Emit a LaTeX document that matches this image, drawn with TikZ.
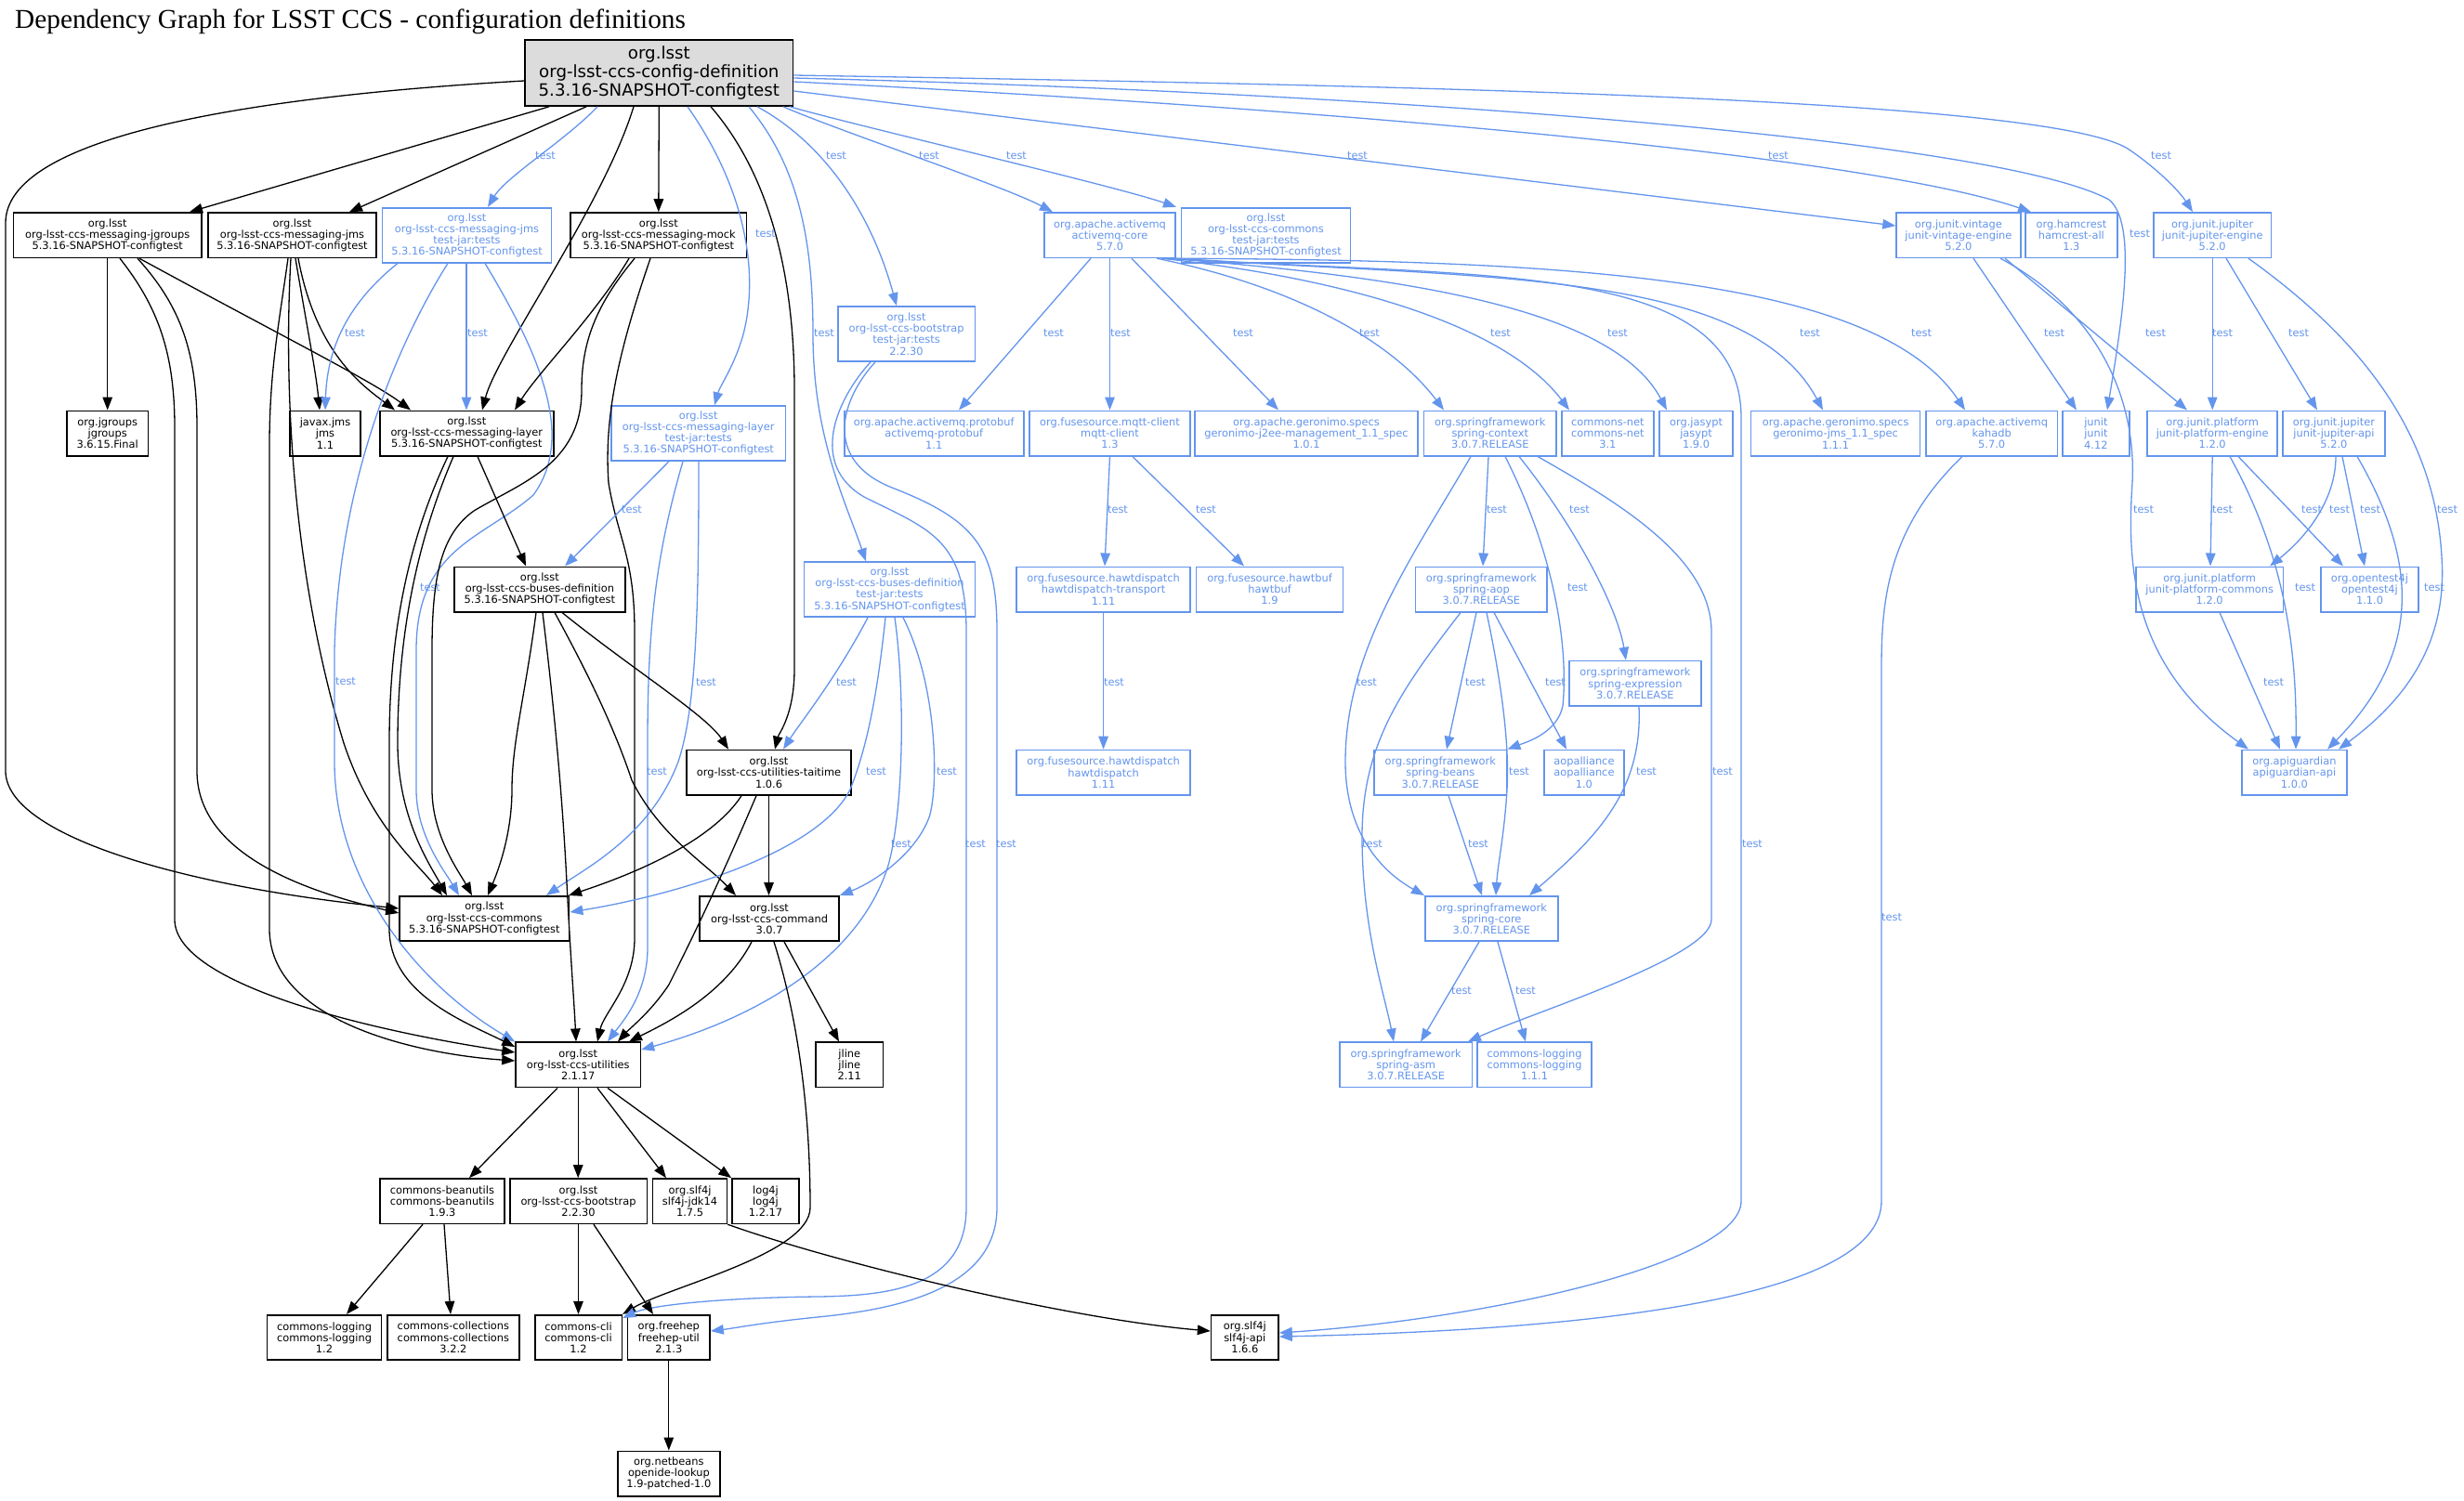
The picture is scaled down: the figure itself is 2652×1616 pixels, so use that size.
\documentclass[tikz,border=0pt]{standalone}
\usepackage{fontspec}
\setmainfont{DejaVu Sans}
\newfontfamily\gvtitlefont{Liberation Serif}
\usetikzlibrary{arrows.meta}
\definecolor{cblue}{RGB}{100,149,237}
\definecolor{rootfill}{RGB}{220,220,220}
\newcommand{\gvnode}{\fontsize{11.4}{12.2}\selectfont}
\newcommand{\gvroot}{\fontsize{18.2}{19.7}\selectfont}
\begin{document}
\begin{tikzpicture}[x=1pt,y=-1pt,
 box/.style={rectangle,draw=black,line width=1.6pt,inner sep=0pt,align=center,font=\gvnode,minimum height=48.4pt,text=black},
 bbox/.style={box,draw=cblue,text=cblue},
 bk/.style={draw=black,line width=1.3pt,-{Triangle[length=14pt,width=10.5pt]}},
 bl/.style={draw=cblue,line width=1.3pt,-{Triangle[length=14pt,width=10.5pt]}},
 lbl/.style={text=cblue,font=\gvnode,inner sep=0pt}]
\useasboundingbox (0,0) rectangle (2652,1616);
\fill[white] (0,0) rectangle (2652,1616);
\node[anchor=base west,inner sep=0pt,font=\gvtitlefont\fontsize{29.3}{32}\selectfont] (title) at (16,31) {Dependency Graph for LSST CCS - configuration definitions};

% ---------------- nodes
\node[box,fill=rootfill,font=\gvroot,minimum width=288.5pt,minimum height=71.3pt] (root) at (709.3,78.4) {org.lsst\\org-lsst-ccs-config-definition\\5.3.16-SNAPSHOT-configtest};
\node[box,minimum width=202.6pt] (mjg) at (115.7,253.2) {org.lsst\\org-lsst-ccs-messaging-jgroups\\5.3.16-SNAPSHOT-configtest};
\node[box,minimum width=181pt] (mjms) at (314.5,253.2) {org.lsst\\org-lsst-ccs-messaging-jms\\5.3.16-SNAPSHOT-configtest};
\node[bbox,minimum width=182pt,minimum height=59pt] (mjmst) at (502.5,253.2) {org.lsst\\org-lsst-ccs-messaging-jms\\test-jar:tests\\5.3.16-SNAPSHOT-configtest};
\node[box,minimum width=189.6pt] (mmock) at (708.8,253.2) {org.lsst\\org-lsst-ccs-messaging-mock\\5.3.16-SNAPSHOT-configtest};
\node[bbox,minimum width=141pt] (amq) at (1194.5,253.2) {org.apache.activemq\\activemq-core\\5.7.0};
\node[bbox,minimum width=182pt,minimum height=59pt] (ccst) at (1362.5,253.2) {org.lsst\\org-lsst-ccs-commons\\test-jar:tests\\5.3.16-SNAPSHOT-configtest};
\node[bbox,minimum width=133.7pt] (vint) at (2107.9,253.2) {org.junit.vintage\\junit-vintage-engine\\5.2.0};
\node[bbox,minimum width=98.9pt] (hamc) at (2229.4,253.2) {org.hamcrest\\hamcrest-all\\1.3};
\node[bbox,minimum width=126.4pt] (jupe) at (2381.2,253.2) {org.junit.jupiter\\junit-jupiter-engine\\5.2.0};
\node[bbox,minimum width=147.5pt,minimum height=59pt] (bst) at (975.6,359.5) {org.lsst\\org-lsst-ccs-bootstrap\\test-jar:tests\\2.2.30};

\node[box,minimum width=87.8pt] (jgl) at (115.7,466.5) {org.jgroups\\jgroups\\3.6.15.Final};
\node[box,minimum width=76pt] (jms) at (350,466.5) {javax.jms\\jms\\1.1};
\node[box,minimum width=187pt] (mlay) at (502.3,466.5) {org.lsst\\org-lsst-ccs-messaging-layer\\5.3.16-SNAPSHOT-configtest};
\node[bbox,minimum width=187.7pt,minimum height=59pt] (mlayt) at (751.7,466.5) {org.lsst\\org-lsst-ccs-messaging-layer\\test-jar:tests\\5.3.16-SNAPSHOT-configtest};
\node[bbox,minimum width=193pt] (prot) at (1005.2,466.5) {org.apache.activemq.protobuf\\activemq-protobuf\\1.1};
\node[bbox,minimum width=173.3pt] (mqtt) at (1194.5,466.5) {org.fusesource.mqtt-client\\mqtt-client\\1.3};
\node[bbox,minimum width=240.5pt] (gj2ee) at (1406,466.5) {org.apache.geronimo.specs\\geronimo-j2ee-management\_1.1\_spec\\1.0.1};
\node[bbox,minimum width=142.4pt] (sctx) at (1603.8,466.5) {org.springframework\\spring-context\\3.0.7.RELEASE};
\node[bbox,minimum width=99.3pt] (cnet) at (1730.4,466.5) {commons-net\\commons-net\\3.1};
\node[bbox,minimum width=78.5pt] (jasy) at (1825.5,466.5) {org.jasypt\\jasypt\\1.9.0};
\node[bbox,minimum width=182pt] (gjms) at (1975.6,466.5) {org.apache.geronimo.specs\\geronimo-jms\_1.1\_spec\\1.1.1};
\node[bbox,minimum width=141.6pt] (kaha) at (2143.7,466.5) {org.apache.activemq\\kahadb\\5.7.0};
\node[bbox,minimum width=72.3pt] (junit) at (2255.9,466.5) {junit\\junit\\4.12};
\node[bbox,minimum width=140pt] (pleng) at (2381.2,466.5) {org.junit.platform\\junit-platform-engine\\1.2.0};
\node[bbox,minimum width=109.7pt] (jupa) at (2511.9,466.5) {org.junit.jupiter\\junit-jupiter-api\\5.2.0};

\node[box,minimum width=183.7pt] (busd) at (580.9,634.5) {org.lsst\\org-lsst-ccs-buses-definition\\5.3.16-SNAPSHOT-configtest};
\node[bbox,minimum width=183.7pt,minimum height=59pt] (busdt) at (957.5,634.6) {org.lsst\\org-lsst-ccs-buses-definition\\test-jar:tests\\5.3.16-SNAPSHOT-configtest};
\node[bbox,minimum width=187pt] (hdt) at (1187.6,634.5) {org.fusesource.hawtdispatch\\hawtdispatch-transport\\1.11};
\node[bbox,minimum width=158pt] (hbuf) at (1366.5,634.5) {org.fusesource.hawtbuf\\hawtbuf\\1.9};
\node[bbox,minimum width=141.7pt] (saop) at (1594.4,634.5) {org.springframework\\spring-aop\\3.0.7.RELEASE};
\node[bbox,minimum width=158.7pt] (plcom) at (2378.2,634.5) {org.junit.platform\\junit-platform-commons\\1.2.0};
\node[bbox,minimum width=105pt] (ot4j) at (2550.5,634.5) {org.opentest4j\\opentest4j\\1.1.0};
\node[bbox,minimum width=142.3pt] (sexp) at (1759.9,735.8) {org.springframework\\spring-expression\\3.0.7.RELEASE};

\node[box,minimum width=177pt] (tait) at (827.5,831.7) {org.lsst\\org-lsst-ccs-utilities-taitime\\1.0.6};
\node[bbox,minimum width=187pt] (hd) at (1187.6,831.7) {org.fusesource.hawtdispatch\\hawtdispatch\\1.11};
\node[bbox,minimum width=142.6pt] (sbean) at (1550.3,831.7) {org.springframework\\spring-beans\\3.0.7.RELEASE};
\node[bbox,minimum width=86pt] (aopa) at (1704.9,831.7) {aopalliance\\aopalliance\\1.0};
\node[bbox,minimum width=112.7pt] (apig) at (2469.4,831.7) {org.apiguardian\\apiguardian-api\\1.0.0};

\node[box,minimum width=182.5pt] (comm) at (521.3,989) {org.lsst\\org-lsst-ccs-commons\\5.3.16-SNAPSHOT-configtest};
\node[box,minimum width=150pt] (cmd) at (828,989) {org.lsst\\org-lsst-ccs-command\\3.0.7};
\node[bbox,minimum width=143pt] (score) at (1605.3,989) {org.springframework\\spring-core\\3.0.7.RELEASE};

\node[box,minimum width=134.4pt] (util) at (622.2,1146.4) {org.lsst\\org-lsst-ccs-utilities\\2.1.17};
\node[box,minimum width=72.6pt] (jline) at (914.3,1146.4) {jline\\jline\\2.11};
\node[bbox,minimum width=142.3pt] (sasm) at (1513.2,1146.4) {org.springframework\\spring-asm\\3.0.7.RELEASE};
\node[bbox,minimum width=123pt] (clog11) at (1651.5,1146.4) {commons-logging\\commons-logging\\1.1.1};

\node[box,minimum width=134.3pt] (bean) at (475.9,1293.2) {commons-beanutils\\commons-beanutils\\1.9.3};
\node[box,minimum width=147.6pt] (boot) at (622.5,1293.2) {org.lsst\\org-lsst-ccs-bootstrap\\2.2.30};
\node[box,minimum width=79.8pt] (sjdk) at (742.5,1293.2) {org.slf4j\\slf4j-jdk14\\1.7.5};
\node[box,minimum width=72pt] (log4j) at (824,1293.2) {log4j\\log4j\\1.2.17};

\node[box,minimum width=122.8pt] (clog12) at (349,1439.9) {commons-logging\\commons-logging\\1.2};
\node[box,minimum width=142.3pt] (ccol) at (487.9,1439.9) {commons-collections\\commons-collections\\3.2.2};
\node[box,minimum width=93.6pt] (ccli) at (622.5,1439.9) {commons-cli\\commons-cli\\1.2};
\node[box,minimum width=88.4pt] (fhep) at (719.8,1439.9) {org.freehep\\freehep-util\\2.1.3};
\node[box,minimum width=72.4pt] (sapi) at (1339.8,1439.9) {org.slf4j\\slf4j-api\\1.6.6};
\node[box,minimum width=110.3pt] (oide) at (719.9,1586.5) {org.netbeans\\openide-lookup\\1.9-patched-1.0};

% ---------------- edges from root
\draw[bk] (591,0 |- root.south) -- (204,0 |- mjg.north);
\draw[bk] (631,0 |- root.south) -- (376,0 |- mjms.north);
\draw[bk] (root.south) -- (mmock.north);
\draw[bk] (682,0 |- root.south) .. controls (650,220) and (535,380) .. (519,0 |- mlay.north);
\draw[bk] (root.west |- 0,87) .. controls (250,105) and (6,150) .. (6,240) -- (6,830) .. controls (6,900) and (200,955) .. (comm.west |- 0,978);
\draw[bk] (765,0 |- root.south) .. controls (830,190) and (855,300) .. (855,420) -- (855,720) .. controls (855,770) and (838,790) .. (834,0 |- tait.north);
\draw[bl] (643,0 |- root.south) .. controls (610,150) and (545,190) .. (525,0 |- mjmst.north);
\node[lbl] (l01) at (587,168) {test};
\draw[bl] (740,0 |- root.south) .. controls (800,200) and (818,290) .. (800,360) .. controls (790,395) and (775,415) .. (769,0 |- mlayt.north);
\node[lbl] (l02) at (824,252) {test};
\draw[bl] (806,0 |- root.south) .. controls (860,180) and (875,260) .. (875,360) .. controls (875,470) and (910,540) .. (932,0 |- busdt.north);
\node[lbl] (l03) at (887,359) {test};
\draw[bl] (815,0 |- root.south) .. controls (880,150) and (935,220) .. (965,0 |- bst.north);
\node[lbl] (l04) at (900,168) {test};
\draw[bl] (843,0 |- root.south) .. controls (900,140) and (1080,200) .. (1133,0 |- amq.north);
\node[lbl] (l05) at (1000,168) {test};
\draw[bl] (850,0 |- root.south) .. controls (920,135) and (1200,200) .. (1266,0 |- ccst.north);
\node[lbl] (l06) at (1094,168) {test};
\draw[bl] (root.east |- 0,98) -- (vint.west |- 0,243);
\node[lbl] (l07) at (1461,168) {test};
\draw[bl] (root.east |- 0,88) .. controls (1400,115) and (2000,165) .. (2186,0 |- hamc.north);
\node[lbl] (l08) at (1914,168) {test};
\draw[bl] (root.east |- 0,84) .. controls (1500,100) and (2150,150) .. (2270,215) .. controls (2300,240) and (2285,340) .. (2268,0 |- junit.north);
\node[lbl] (l09) at (2303,252) {test};
\draw[bl] (root.east |- 0,81) .. controls (1500,92) and (2200,105) .. (2290,160) .. controls (2320,180) and (2345,205) .. (2360,0 |- jupe.north);
\node[lbl] (l10) at (2326,168) {test};

% ---------------- messaging-jgroups
\draw[bk] (mjg.south) -- (jgl.north);
\draw[bk] (129,0 |- mjg.south) .. controls (170,330) and (188,380) .. (188,460) -- (188,990) .. controls (188,1060) and (400,1110) .. (util.west |- 0,1133);
\draw[bk] (148,0 |- mjg.south) .. controls (195,330) and (212,380) .. (212,460) -- (212,830) .. controls (212,920) and (330,960) .. (comm.west |- 0,983);
\draw[bk] (150,0 |- mjg.south) .. controls (300,360) and (400,410) .. (442,0 |- mlay.north);

% ---------------- messaging-jms
\draw[bk] (318,0 |- mjms.south) .. controls (330,350) and (340,400) .. (344,0 |- jms.north);
\draw[bk] (321,0 |- mjms.south) .. controls (340,380) and (390,415) .. (425,0 |- mlay.north);
\draw[bk] (310,0 |- mjms.south) .. controls (300,350) and (290,400) .. (290,480) -- (290,1000) .. controls (290,1100) and (450,1135) .. (util.west |- 0,1142);
\draw[bk] (313,0 |- mjms.south) .. controls (305,420) and (315,620) .. (370,800) .. controls (400,890) and (450,930) .. (476,0 |- comm.north);

% ---------------- messaging-jms test-jar
\draw[bl] (428,0 |- mjmst.south) .. controls (370,330) and (352,380) .. (350,0 |- jms.north);
\node[lbl] (l11) at (382,359) {test};
\draw[bl] (502,0 |- mjmst.south) -- (502,0 |- mlay.north);
\node[lbl] (l12) at (514,359) {test};
\draw[bl] (482,0 |- mjmst.south) .. controls (440,350) and (365,500) .. (360,700) -- (360,820) .. controls (360,950) and (450,1060) .. (util.north west);
\node[lbl] (l13) at (372,734) {test};
\draw[bl] (522,0 |- mjmst.south) .. controls (580,380) and (620,470) .. (574,533) .. controls (520,580) and (448,590) .. (448,700) -- (448,850) .. controls (448,900) and (480,940) .. (494,0 |- comm.north);
\node[lbl] (l14) at (463,633) {test};

% ---------------- messaging-mock
\draw[bk] (677,0 |- mmock.south) .. controls (640,340) and (580,400) .. (554,0 |- mlay.north);
\draw[bk] (683,0 |- mmock.south) .. controls (640,330) and (626,370) .. (626,420) .. controls (626,500) and (560,520) .. (510,550) .. controls (475,575) and (465,620) .. (465,700) -- (465,850) .. controls (465,900) and (495,940) .. (508,0 |- comm.north);
\draw[bk] (700,0 |- mmock.south) .. controls (665,380) and (650,450) .. (655,520) .. controls (665,580) and (683,600) .. (683,680) -- (683,1010) .. controls (683,1060) and (650,1090) .. (643,0 |- util.north);

% ---------------- messaging-layer
\draw[bk] (514,0 |- mlay.south) -- (566,0 |- busd.north);
\draw[bk] (488,0 |- mlay.south) .. controls (450,580) and (428,680) .. (428,800) .. controls (428,880) and (462,930) .. (481,0 |- comm.north);
\draw[bk] (482,0 |- mlay.south) .. controls (440,580) and (419,680) .. (419,800) -- (419,1000) .. controls (419,1070) and (500,1100) .. (util.west |- 0,1127);

% ---------------- messaging-layer test-jar
\draw[bl] (720,0 |- mlayt.south) -- (608,0 |- busd.north);
\node[lbl] (l15) at (680,549) {test};
\draw[bl] (735,0 |- mlayt.south) .. controls (705,600) and (697,680) .. (697,800) -- (697,1020) .. controls (697,1070) and (670,1100) .. (654,0 |- util.north);
\node[lbl] (l16) at (707,831) {test};
\draw[bl] (752,0 |- mlayt.south) .. controls (752,650) and (750,760) .. (730,820) .. controls (700,900) and (630,935) .. (588,0 |- comm.north);
\node[lbl] (l17) at (760,735) {test};

% ---------------- buses-definition
\draw[bk] (605,0 |- busd.south) .. controls (680,720) and (760,770) .. (784,0 |- tait.north);
\draw[bk] (597,0 |- busd.south) .. controls (630,720) and (660,780) .. (680,840) .. controls (710,900) and (760,930) .. (792,0 |- cmd.north);
\draw[bk] (584,0 |- busd.south) .. controls (595,750) and (605,850) .. (610,950) .. controls (614,1030) and (618,1080) .. (620,0 |- util.north);
\draw[bk] (577,0 |- busd.south) .. controls (565,750) and (551,800) .. (551,850) .. controls (551,900) and (535,940) .. (525,0 |- comm.north);

% ---------------- buses-definition test-jar
\draw[bl] (934,0 |- busdt.south) .. controls (900,730) and (860,780) .. (843,0 |- tait.north);
\node[lbl] (l18) at (911,735) {test};
\draw[bl] (953,0 |- busdt.south) .. controls (945,740) and (935,800) .. (915,850) .. controls (880,920) and (720,965) .. (comm.east |- 0,982);
\node[lbl] (l19) at (943,831) {test};
\draw[bl] (963,0 |- busdt.south) .. controls (975,750) and (972,880) .. (955,935) .. controls (920,1040) and (800,1100) .. (util.east |- 0,1130);
\node[lbl] (l20) at (970,909) {test};
\draw[bl] (972,0 |- busdt.south) .. controls (1010,740) and (1010,850) .. (1000,880) .. controls (985,920) and (940,950) .. (cmd.north east);
\node[lbl] (l21) at (1019,831) {test};

% ---------------- taitime, command
\draw[bk] (798,0 |- tait.south) .. controls (770,900) and (700,935) .. (612,0 |- comm.north);
\draw[bk] (814,0 |- tait.south) .. controls (770,960) and (740,1020) .. (720,1060) .. controls (700,1090) and (680,1105) .. (665,0 |- util.north);
\draw[bk] (tait.south) -- (tait.south |- cmd.north);
\draw[bk] (809,0 |- cmd.south) .. controls (780,1070) and (720,1100) .. (677,0 |- util.north);
\draw[bk] (844,0 |- cmd.south) -- (903,0 |- jline.north);
\draw[bk] (833,0 |- cmd.south) .. controls (860,1100) and (872,1200) .. (872,1300) .. controls (872,1350) and (720,1385) .. (ccli.north east);

% ---------------- bootstrap test-jar
\draw[bl] (937,0 |- bst.south) .. controls (900,430) and (870,500) .. (930,535) .. controls (1000,570) and (1040,580) .. (1040,680) -- (1040,1300) .. controls (1040,1385) and (960,1395) .. (880,1396) .. controls (780,1397) and (700,1405) .. (ccli.east |- 0,1419);
\node[lbl] (l22) at (1050,909) {test};
\draw[bl] (942,0 |- bst.south) .. controls (905,430) and (885,495) .. (960,525) .. controls (1050,560) and (1073,590) .. (1073,680) -- (1073,1300) .. controls (1073,1390) and (960,1410) .. (880,1418) .. controls (820,1424) and (790,1430) .. (fhep.east |- 0,1433);
\node[lbl] (l23) at (1083,909) {test};

% ---------------- utilities and below
\draw[bk] (600,0 |- util.south) -- (505,0 |- bean.north);
\draw[bk] (util.south) -- (util.south |- boot.north);
\draw[bk] (643,0 |- util.south) -- (717,0 |- sjdk.north);
\draw[bk] (654,0 |- util.south) -- (log4j.north west);
\draw[bk] (455,0 |- bean.south) -- (373,0 |- clog12.north);
\draw[bk] (478,0 |- bean.south) -- (485,0 |- ccol.north);
\draw[bk] (boot.south) -- (ccli.north);
\draw[bk] (639,0 |- boot.south) -- (703,0 |- fhep.north);
\draw[bk] (sjdk.south east) .. controls (900,1360) and (1150,1420) .. (sapi.west |- 0,1433);
\draw[bk] (fhep.south) -- (fhep.south |- oide.north);

% ---------------- activemq-core
\draw[bl] (1174,0 |- amq.south) -- (1032,0 |- prot.north);
\node[lbl] (l24) at (1134,359) {test};
\draw[bl] (amq.south) -- (mqtt.north);
\node[lbl] (l25) at (1206,359) {test};
\draw[bl] (1218,0 |- amq.south) -- (1376,0 |- gj2ee.north);
\node[lbl] (l26) at (1338,359) {test};
\draw[bl] (1245,0 |- amq.south) .. controls (1400,310) and (1500,370) .. (1554,0 |- sctx.north);
\node[lbl] (l27) at (1474,359) {test};
\draw[bl] (1250,0 |- amq.south) .. controls (1450,300) and (1620,350) .. (1689,0 |- cnet.north);
\node[lbl] (l28) at (1615,359) {test};
\draw[bl] (1255,0 |- amq.south) .. controls (1550,300) and (1740,340) .. (1794,0 |- jasy.north);
\node[lbl] (l29) at (1741,359) {test};
\draw[bl] (1259,0 |- amq.south) .. controls (1600,300) and (1880,290) .. (1962,0 |- gjms.north);
\node[lbl] (l30) at (1948,359) {test};
\draw[bl] (1262,0 |- amq.south) .. controls (1700,280) and (2020,300) .. (2115,0 |- kaha.north);
\node[lbl] (l31) at (2068,359) {test};
\draw[bl] (amq.south east) .. controls (1600,300) and (1874,280) .. (1874,450) -- (1874,1293) .. controls (1874,1360) and (1600,1420) .. (sapi.east |- 0,1435);
\node[lbl] (l32) at (1886,909) {test};
\draw[bl] (2112,0 |- kaha.south) .. controls (2030,570) and (2025,650) .. (2025,720) -- (2025,1293) .. controls (2025,1400) and (1700,1432) .. (sapi.east |- 0,1439);
\node[lbl] (l33) at (2036,988) {test};

% ---------------- fusesource
\draw[bl] (mqtt.south) -- (1189,0 |- hdt.north);
\node[lbl] (l34) at (1203,549) {test};
\draw[bl] (1219,0 |- mqtt.south) -- (1339,0 |- hbuf.north);
\node[lbl] (l35) at (1298,549) {test};
\draw[bl] (hdt.south) -- (hd.north);
\node[lbl] (l36) at (1199,735) {test};

% ---------------- spring
\draw[bl] (1583,0 |- sctx.south) .. controls (1520,600) and (1448,700) .. (1448,820) .. controls (1448,900) and (1490,940) .. (score.north west);
\node[lbl] (l37) at (1471,735) {test};
\draw[bl] (1602,0 |- sctx.south) -- (1596,0 |- saop.north);
\node[lbl] (l38) at (1611,549) {test};
\draw[bl] (1620,0 |- sctx.south) .. controls (1675,600) and (1688,700) .. (1682,760) .. controls (1676,790) and (1640,800) .. (sbean.north east);
\node[lbl] (l39) at (1698,633) {test};
\draw[bl] (1635,0 |- sctx.south) .. controls (1690,560) and (1740,650) .. (1750,0 |- sexp.north);
\node[lbl] (l40) at (1700,549) {test};
\draw[bl] (1655,0 |- sctx.south) .. controls (1740,540) and (1842,600) .. (1842,680) -- (1842,990) .. controls (1842,1030) and (1650,1090) .. (1580,0 |- sasm.north);
\node[lbl] (l41) at (1854,831) {test};
\draw[bl] (1572,0 |- saop.south) .. controls (1510,740) and (1466,800) .. (1466,900) .. controls (1466,1000) and (1490,1070) .. (1500,0 |- sasm.north);
\node[lbl] (l42) at (1477,909) {test};
\draw[bl] (1589,0 |- saop.south) -- (1557,0 |- sbean.north);
\node[lbl] (l43) at (1588,735) {test};
\draw[bl] (1600,0 |- saop.south) .. controls (1615,730) and (1625,800) .. (1622,850) .. controls (1619,900) and (1612,930) .. (1610,0 |- score.north);
\node[lbl] (l44) at (1635,831) {test};
\draw[bl] (1608,0 |- saop.south) -- (1686,0 |- aopa.north);
\node[lbl] (l45) at (1674,735) {test};
\draw[bl] (1764,0 |- sexp.south) .. controls (1768,850) and (1720,900) .. (1646,0 |- score.north);
\node[lbl] (l46) at (1772,831) {test};
\draw[bl] (1559,0 |- sbean.south) -- (1595,0 |- score.north);
\node[lbl] (l47) at (1591,909) {test};
\draw[bl] (1592,0 |- score.south) -- (1529,0 |- sasm.north);
\node[lbl] (l48) at (1573,1067) {test};
\draw[bl] (1612,0 |- score.south) -- (1642,0 |- clog11.north);
\node[lbl] (l49) at (1642,1067) {test};

% ---------------- junit
\draw[bl] (2124,0 |- vint.south) -- (2235,0 |- junit.north);
\node[lbl] (l50) at (2211,359) {test};
\draw[bl] (2158,0 |- vint.south) -- (2354,0 |- pleng.north);
\node[lbl] (l51) at (2320,359) {test};
\draw[bl] (2153,0 |- vint.south) .. controls (2250,330) and (2300,420) .. (2295,520) .. controls (2288,620) and (2300,720) .. (2420,0 |- apig.north);
\node[lbl] (l52) at (2307,549) {test};
\draw[bl] (jupe.south) -- (pleng.north);
\node[lbl] (l53) at (2392,359) {test};
\draw[bl] (2396,0 |- jupe.south) -- (2494,0 |- jupa.north);
\node[lbl] (l54) at (2474,359) {test};
\draw[bl] (2420,0 |- jupe.south) .. controls (2520,350) and (2620,450) .. (2628,600) .. controls (2635,700) and (2580,760) .. (2517,0 |- apig.north);
\node[lbl] (l55) at (2634,549) {test};
\draw[bl] (pleng.south) -- (2379,0 |- plcom.north);
\node[lbl] (l56) at (2392,549) {test};
\draw[bl] (2400,0 |- pleng.south) .. controls (2460,600) and (2472,700) .. (2471,0 |- apig.north);
\node[lbl] (l57) at (2481,633) {test};
\draw[bl] (2409,0 |- pleng.south) -- (2522,0 |- ot4j.north);
\node[lbl] (l58) at (2488,549) {test};
\draw[bl] (2514,0 |- jupa.south) .. controls (2514,540) and (2480,580) .. (2443,0 |- plcom.north);
\node[lbl] (l59) at (2518,549) {test};
\draw[bl] (2521,0 |- jupa.south) -- (2545,0 |- ot4j.north);
\node[lbl] (l60) at (2551,549) {test};
\draw[bl] (2537,0 |- jupa.south) .. controls (2600,600) and (2610,700) .. (2505,0 |- apig.north);
\node[lbl] (l61) at (2620,633) {test};
\draw[bl] (2389,0 |- plcom.south) -- (2454,0 |- apig.north);
\node[lbl] (l62) at (2447,735) {test};
\end{tikzpicture}
\end{document}
